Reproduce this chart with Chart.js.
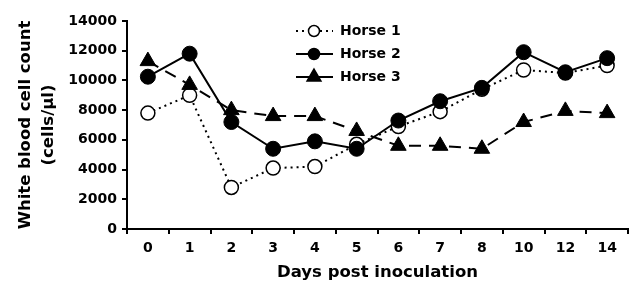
<!DOCTYPE html>
<html><head><meta charset="utf-8">
<script src="https://cdn.jsdelivr.net/npm/chart.js@4"></script>
<style>html,body{margin:0;padding:0;background:#fff}#wrap{width:638px;height:285px;position:relative}</style>
</head><body><div id="wrap"><canvas id="c"></canvas></div>
<script>
const days = ['0','1','2','3','4','5','6','7','8','10','12','14'];
const horse1 = [7800, 9000, 2800, 4100, 4200, 5700, 6900, 7900, 9400, 10700, 10500, 11000];
const horse2 = [10250, 11800, 7200, 5400, 5900, 5400, 7300, 8600, 9500, 11900, 10550, 11500];
const horse3 = [11300, 9700, 8000, 7600, 7600, 6600, 5600, 5600, 5400, 7200, 7950, 7800];
const seriesNames = ['Horse 1', 'Horse 2', 'Horse 3'];
const yMin = 0, yMax = 14000, yStep = 2000;
const xTitle = 'Days post inoculation';
const yTitle = ['White blood cell count', '(cells/µl)'];

const FONT = '"DejaVu Sans", "Liberation Sans", Arial, sans-serif';

const legendPlugin = {
  id: 'customLegend',
  afterDraw(chart) {
    const ctx = chart.ctx;
    const x0 = 296, x1 = 333, mx = 314, tx = 340;
    const ys = [31, 54, 77];
    chart.data.datasets.forEach((ds, i) => {
      const y = ys[i];
      ctx.save();
      ctx.strokeStyle = '#000';
      ctx.lineWidth = 2;
      ctx.setLineDash(ds.legendDash || []);
      ctx.beginPath(); ctx.moveTo(x0, y); ctx.lineTo(x1, y); ctx.stroke();
      ctx.setLineDash([]);
      ctx.fillStyle = ds.pointBackgroundColor;
      ctx.lineWidth = 1.5;
      ctx.beginPath();
      if (ds.pointStyle === 'triangle') {
        const r = 8;
        ctx.moveTo(mx, y - r);
        ctx.lineTo(mx + r * Math.sin(2*Math.PI/3), y - r * Math.cos(2*Math.PI/3));
        ctx.lineTo(mx - r * Math.sin(2*Math.PI/3), y - r * Math.cos(2*Math.PI/3));
        ctx.closePath();
      } else {
        ctx.arc(mx, y, 5.5, 0, Math.PI * 2);
      }
      ctx.fill(); ctx.stroke();
      ctx.fillStyle = '#000';
      ctx.font = 'bold 14px ' + FONT;
      ctx.textBaseline = 'middle';
      ctx.textAlign = 'left';
      ctx.fillText(ds.label, tx, y);
      ctx.restore();
    });
  }
};

const yTickValues = [];
for (let v = yMin; v <= yMax; v += yStep) yTickValues.push(v);

new Chart(document.getElementById('c'), {
  type: 'line',
  data: {
    labels: days,
    datasets: [
      { label: seriesNames[0], data: horse1, borderColor: '#000', borderWidth: 2, borderDash: [2, 4], legendDash: [2, 4],
        pointStyle: 'circle', pointRadius: 7, pointBorderWidth: 1.5, pointBackgroundColor: '#fff', pointBorderColor: '#000', order: 2, tension: 0 },
      { label: seriesNames[1], data: horse2, borderColor: '#000', borderWidth: 2,
        pointStyle: 'circle', pointRadius: 7.5, pointBorderWidth: 1, pointBackgroundColor: '#000', pointBorderColor: '#000', order: 1, tension: 0 },
      { label: seriesNames[2], data: horse3, borderColor: '#000', borderWidth: 2, borderDash: [12, 8], legendDash: [],
        pointStyle: 'triangle', pointRadius: 9, pointBorderWidth: 1, pointBackgroundColor: '#000', pointBorderColor: '#000', order: 0, tension: 0 }
    ]
  },
  options: {
    responsive: true, maintainAspectRatio: false, animation: false,
    layout: { padding: { top: 21, right: 5, bottom: 0, left: 0 } },
    plugins: { legend: { display: false }, tooltip: { enabled: false } },
    scales: {
      x: {
        type: 'category', offset: true,
        grid: { display: true, offset: true, drawOnChartArea: false, drawTicks: true, tickLength: 5, color: '#000', lineWidth: 2 },
        border: { display: true, color: '#000', width: 2 },
        ticks: { color: '#000', font: { family: FONT, size: 14, weight: 'bold' }, padding: 6, maxRotation: 0, autoSkip: false },
        title: { display: true, text: xTitle, color: '#000', font: { family: FONT, size: 16.5, weight: 'bold', lineHeight: 1.2 }, padding: { top: 0, bottom: 2 } },
        afterFit(scale) { scale.height = 56; }
      },
      y: {
        min: yMin, max: yMax,
        afterBuildTicks(scale) { scale.ticks = yTickValues.map(v => ({ value: v })); },
        grid: { display: true, drawOnChartArea: false, drawTicks: true, tickLength: 5, color: '#000', lineWidth: 2 },
        border: { display: true, color: '#000', width: 2 },
        ticks: { color: '#000', font: { family: FONT, size: 14, weight: 'bold' }, padding: 5, callback: v => String(v) },
        title: { display: true, text: yTitle, color: '#000', font: { family: FONT, size: 16.5, weight: 'bold', lineHeight: 1.35 }, padding: { top: 15, bottom: 0 } },
        afterFit(scale) { scale.width = 127; }
      }
    }
  },
  plugins: [legendPlugin]
});
</script>
</body></html>
